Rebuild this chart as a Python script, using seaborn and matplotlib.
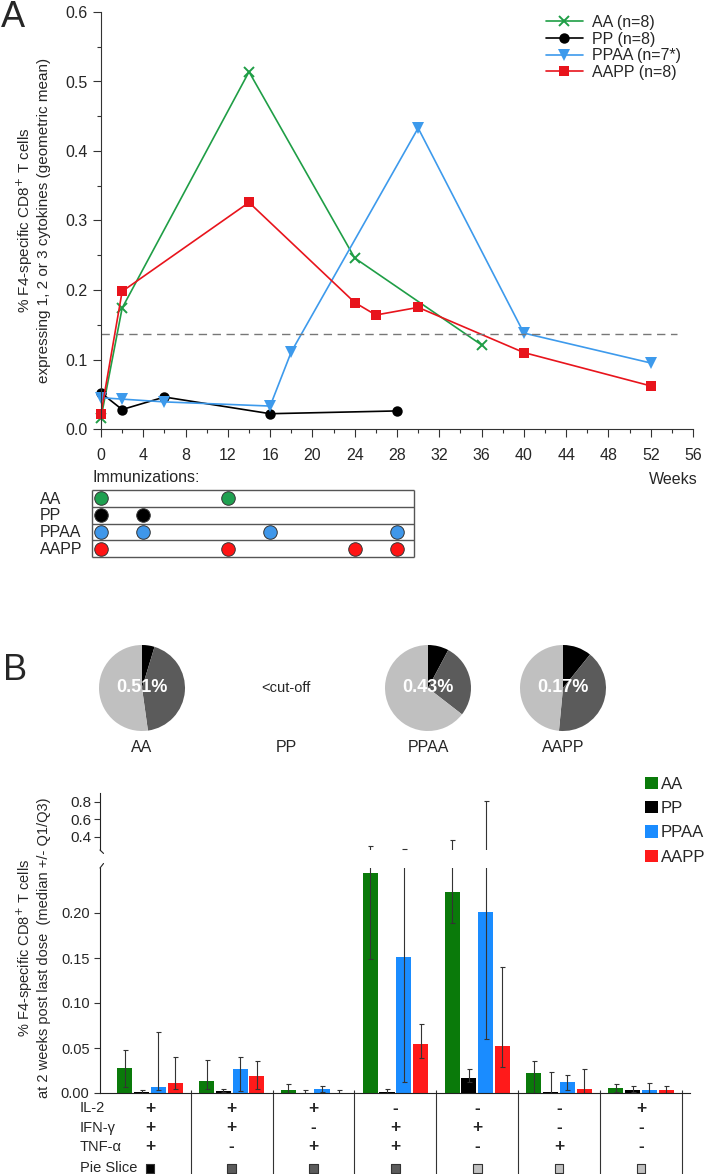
import numpy as np
import pandas as pd
import matplotlib
matplotlib.use("Agg")
import matplotlib.pyplot as plt
import matplotlib.transforms as mtransforms
from matplotlib.ticker import MultipleLocator, FormatStrFormatter
import seaborn as sns

# ---- Panel A: time course (geometric mean) ----
aa_weeks = [0, 2, 14, 24, 36]
aa_vals = [0.016, 0.174, 0.514, 0.246, 0.121]
pp_weeks = [0, 2, 6, 16, 28]
pp_vals = [0.052, 0.028, 0.046, 0.022, 0.026]
ppaa_weeks = [0, 2, 6, 16, 18, 30, 40, 52]
ppaa_vals = [0.045, 0.043, 0.039, 0.033, 0.111, 0.433, 0.138, 0.095]
aapp_weeks = [0, 2, 14, 24, 26, 30, 40, 52]
aapp_vals = [0.022, 0.198, 0.326, 0.182, 0.164, 0.175, 0.110, 0.062]
cutoff = 0.136

series_labels = ["AA (n=8)", "PP (n=8)", "PPAA (n=7*)", "AAPP (n=8)"]

# immunization schedule (weeks)
regimens = ["AA", "PP", "PPAA", "AAPP"]
imm_weeks = [[0, 12], [0, 4], [0, 4, 16, 28], [0, 12, 24, 28]]

# ---- Panel B: pies ----
pie_names = ["AA", "PP", "PPAA", "AAPP"]
pie_totals = ["0.51%", None, "0.43%", "0.17%"]
pie_fracs = [[0.047, 0.431, 0.522], None, [0.078, 0.277, 0.645], [0.108, 0.407, 0.485]]

# ---- Panel B: bars (median, Q1, Q3) ----
combos = ["+++", "++-", "+-+", "-++", "-+-", "--+", "+--"]
il2 = ["+", "+", "+", "-", "-", "-", "+"]
ifng = ["+", "+", "-", "+", "+", "-", "-"]
tnfa = ["+", "-", "+", "+", "-", "+", "-"]
slice_kind = ["black", "dark", "dark", "dark", "light", "light", "light"]

aa_med = [0.028, 0.013, 0.003, 0.244, 0.223, 0.022, 0.006]
aa_lo = [0.007, 0.004, 0.000, 0.149, 0.189, 0.000, 0.001]
aa_hi = [0.048, 0.037, 0.010, 0.290, 0.366, 0.036, 0.010]
pp_med = [0.001, 0.002, 0.000, 0.001, 0.017, 0.001, 0.003]
pp_lo = [0.000, 0.001, 0.000, 0.000, 0.012, 0.000, 0.001]
pp_hi = [0.003, 0.004, 0.003, 0.004, 0.027, 0.023, 0.008]
ppaa_med = [0.007, 0.027, 0.004, 0.151, 0.201, 0.012, 0.003]
ppaa_lo = [0.003, 0.002, 0.001, 0.012, 0.060, 0.003, 0.000]
ppaa_hi = [0.068, 0.040, 0.008, 0.260, 0.810, 0.020, 0.011]
aapp_med = [0.011, 0.019, 0.000, 0.054, 0.052, 0.004, 0.003]
aapp_lo = [0.004, 0.004, 0.000, 0.039, 0.029, 0.000, 0.000]
aapp_hi = [0.040, 0.036, 0.003, 0.077, 0.140, 0.027, 0.008]

line_colors = ["#1f9e46", "#000000", "#3d9aec", "#e8141c"]
line_markers = ["x", "o", "v", "s"]
dot_colors = ["#1fa050", "#000000", "#3f97ea", "#ff1414"]
bar_colors = {"AA": "#0a7a0a", "PP": "#000000", "PPAA": "#1a8cff", "AAPP": "#ff1a1a"}
slice_colors = {"black": "#000000", "dark": "#5b5b5b", "light": "#c0c0c0"}

sns.set_style("ticks")
plt.rcParams["font.family"] = ["Liberation Sans", "DejaVu Sans"]
narrow = ["Liberation Sans Narrow", "Liberation Sans", "DejaVu Sans"]

W, H = 707, 1174
fig = plt.figure(figsize=(W / 100, H / 100), dpi=100)


def px_axes(x0, y0, x1, y1):
    # pixel box (top-left origin) -> figure axes
    return fig.add_axes([x0 / W, 1 - y1 / H, (x1 - x0) / W, (y1 - y0) / H])


# ================= Panel A =================
axA = px_axes(101, 12, 693, 429)
weeks_list = [aa_weeks, pp_weeks, ppaa_weeks, aapp_weeks]
vals_list = [aa_vals, pp_vals, ppaa_vals, aapp_vals]
msizes = [7.5, 7.5, 8, 7]
for wk, vv, lab, col, mk, ms in zip(weeks_list, vals_list, series_labels,
                                    line_colors, line_markers, msizes):
    sns.lineplot(x=wk, y=vv, ax=axA, color=col, marker=mk, markersize=ms,
                 markeredgewidth=1.4 if mk == "x" else 0, markeredgecolor=col,
                 linewidth=1.2, label=lab, clip_on=False)

axA.hlines(cutoff, 0, 54.5, colors="#777777", linestyles=(0, (6, 4)), linewidth=1)
axA.set_xlim(0, 56)
axA.set_ylim(0, 0.6)
axA.xaxis.set_major_locator(MultipleLocator(4))
axA.xaxis.set_minor_locator(MultipleLocator(2))
axA.yaxis.set_major_locator(MultipleLocator(0.1))
axA.yaxis.set_minor_locator(MultipleLocator(0.05))
axA.yaxis.set_major_formatter(FormatStrFormatter("%.1f"))
axA.tick_params(which="major", length=6, width=0.8, labelsize=11.5, color="#333333")
axA.tick_params(which="minor", length=3, width=0.8, color="#333333")
axA.tick_params(axis="x", pad=8)
for s in ["left", "bottom"]:
    axA.spines[s].set_linewidth(0.8)
    axA.spines[s].set_color("#333333")
sns.despine(ax=axA)
axA.set_xlabel("")
axA.set_ylabel("")
axA.legend(loc="upper left", bbox_to_anchor=(546 / W, 1 - 15 / H),
           bbox_transform=fig.transFigure, frameon=False, fontsize=11.5,
           handlelength=2.3, handletextpad=0.6, labelspacing=0.1,
           borderpad=0, borderaxespad=0)

fig.text(33 / W, 1 - 220 / H,
         "% F4-specific CD8$^{+}$ T cells\nexpressing 1, 2 or 3 cytokines (geometric mean)",
         rotation=90, ha="center", va="center", multialignment="center",
         fontsize=11, linespacing=1.15)
fig.text(673 / W, 1 - 480 / H, "Weeks", ha="center", va="center", fontsize=11.5)
fig.text(1 / W, 1 - 27 / H, "A", ha="left", va="baseline", fontsize=26)

# immunization table
axT = px_axes(101, 490, 693, 557)
axT.set_xlim(0, 56)
axT.set_ylim(4, 0)
axT.axis("off")
box_x0, box_x1 = -0.85, 29.6
axT.hlines(range(5), box_x0, box_x1, colors="#555555", linewidth=1, clip_on=False)
axT.vlines([box_x0, box_x1], 0, 4, colors="#555555", linewidth=1, clip_on=False)
for i, (reg, wks, col) in enumerate(zip(regimens, imm_weeks, dot_colors)):
    axT.scatter(wks, [i + 0.5] * len(wks), s=95, color=col, edgecolor="#333333",
                linewidth=0.7, clip_on=False, zorder=3)
    axT.text(-5.8, i + 0.55, reg, ha="left", va="center", fontsize=11.5)
axT.text(box_x0, -0.75, "Immunizations:", ha="left", va="center", fontsize=11.5)

# ================= Panel B: pies =================
fig.text(3 / W, 1 - 680 / H, "B", ha="left", va="baseline", fontsize=26,
         family=narrow)
pie_cx = [142, 286, 428, 563]
pie_cy, pie_r = 688, 43
for name, tot, fr, cx in zip(pie_names, pie_totals, pie_fracs, pie_cx):
    if fr is not None:
        axp = px_axes(cx - pie_r, pie_cy - pie_r, cx + pie_r, pie_cy + pie_r)
        axp.pie(fr, colors=[slice_colors[k] for k in ["black", "dark", "light"]],
                startangle=90, counterclock=False, radius=1,
                wedgeprops=dict(linewidth=0))
        axp.set_xlim(-1, 1)
        axp.set_ylim(-1, 1)
        axp.text(0, 0, tot, color="white", fontsize=13, fontweight="bold",
                 ha="center", va="center", family=narrow)
    else:
        fig.text(cx / W, 1 - pie_cy / H, "<cut-off", ha="center", va="center",
                 fontsize=10.5, family=narrow)
    fig.text(cx / W, 1 - 748 / H, name, ha="center", va="center",
             fontsize=11.5, family=narrow)

# ================= Panel B: bars =================
df = pd.DataFrame({
    "combo": combos * 4,
    "regimen": np.repeat(regimens, len(combos)),
    "median": aa_med + pp_med + ppaa_med + aapp_med,
    "q1": aa_lo + pp_lo + ppaa_lo + aapp_lo,
    "q3": aa_hi + pp_hi + ppaa_hi + aapp_hi,
})

axU = px_axes(100, 793, 690, 850)
axL = px_axes(100, 868, 690, 1093)
axU.set_facecolor("none")
axL.set_facecolor("none")

sns.barplot(data=df, x="combo", y="median", hue="regimen", order=combos,
            hue_order=regimens, palette=bar_colors, saturation=1,
            width=0.82, gap=0.1, errorbar=None, linewidth=0, ax=axL)

# error bars on both halves of the broken axis
for cont, reg in zip(axL.containers, regimens):
    sub = df[df["regimen"] == reg]
    xs = [b.get_x() + b.get_width() / 2 for b in cont]
    med = sub["median"].to_numpy()
    yerr = [med - sub["q1"].to_numpy(), sub["q3"].to_numpy() - med]
    for ax in (axL, axU):
        ax.errorbar(xs, med, yerr=yerr, fmt="none", ecolor="#333333",
                    elinewidth=0.8, capsize=1.8, capthick=0.8)

xl = (-0.61, 6.6)
axL.set_xlim(*xl)
axL.set_ylim(0, 0.25)
axL.set_yticks([0, 0.05, 0.10, 0.15, 0.20])
axL.yaxis.set_major_formatter(FormatStrFormatter("%.2f"))
axL.set_xticks([])
axL.set_xlabel("")
axL.set_ylabel("")
axL.tick_params(axis="y", length=4, width=0.8, labelsize=10.5, color="#333333")
sns.despine(ax=axL)
for s in ["left", "bottom"]:
    axL.spines[s].set_linewidth(0.8)
    axL.spines[s].set_color("#222222")

axU.set_xlim(*xl)
axU.set_ylim(0.25, 0.9)
axU.set_yticks([0.4, 0.6, 0.8])
axU.yaxis.set_major_formatter(FormatStrFormatter("%.1f"))
axU.set_xticks([])
axU.tick_params(axis="y", length=4, width=0.8, labelsize=11, pad=2, color="#333333")
sns.despine(ax=axU, bottom=True)
axU.spines["left"].set_linewidth(0.8)
axU.spines["left"].set_color("#222222")

# break marks
axL.plot([0, 0.006], [1.0, 1.02], transform=axL.transAxes, color="#222222",
         lw=0.8, clip_on=False)
axU.plot([0, 0.006], [0.0, -0.06], transform=axU.transAxes, color="#222222",
         lw=0.8, clip_on=False)

sns.move_legend(axL, "upper left", bbox_to_anchor=(645 / W, 1 - 777 / H),
                bbox_transform=fig.transFigure, title=None, frameon=False,
                fontsize=12, handlelength=0.75, handleheight=0.75,
                handletextpad=0.2, labelspacing=0.55, borderpad=0,
                borderaxespad=0)

fig.text(33 / W, 1 - 948 / H,
         "% F4-specific CD8$^{+}$ T cells\nat 2 weeks post last dose  (median +/- Q1/Q3)",
         rotation=90, ha="center", va="center", multialignment="center",
         fontsize=10.5, linespacing=1.15)

# cytokine table under bars
trans = mtransforms.blended_transform_factory(axL.transData, axL.transAxes)
lab_trans = mtransforms.blended_transform_factory(fig.transFigure, axL.transAxes)
row_names = ["IL-2", "IFN-\u03b3", "TNF-\u03b1", "Pie Slice"]
row_y = [-0.068, -0.155, -0.24, -0.335]
for name, yy in zip(row_names, row_y):
    axL.text(80 / W, yy, name, transform=lab_trans, fontsize=10.5,
             ha="left", va="center", clip_on=False)
for rowvals, yy in zip([il2, ifng, tnfa], row_y[:3]):
    for i, sgn in enumerate(rowvals):
        axL.text(i, yy, sgn, transform=trans, ha="center", va="center",
                 fontsize=12.5, fontweight="bold", clip_on=False)
axL.scatter(range(len(combos)), [row_y[3]] * len(combos), transform=trans,
            marker="s", s=40, c=[slice_colors[k] for k in slice_kind],
            edgecolors="#333333", linewidths=0.8, clip_on=False, zorder=3)
axL.vlines(np.arange(len(combos)) + 0.5, -0.37, 0.012, transform=trans,
           colors="#333333", linewidth=0.8, clip_on=False)

fig.savefig("out.png", dpi=100)
